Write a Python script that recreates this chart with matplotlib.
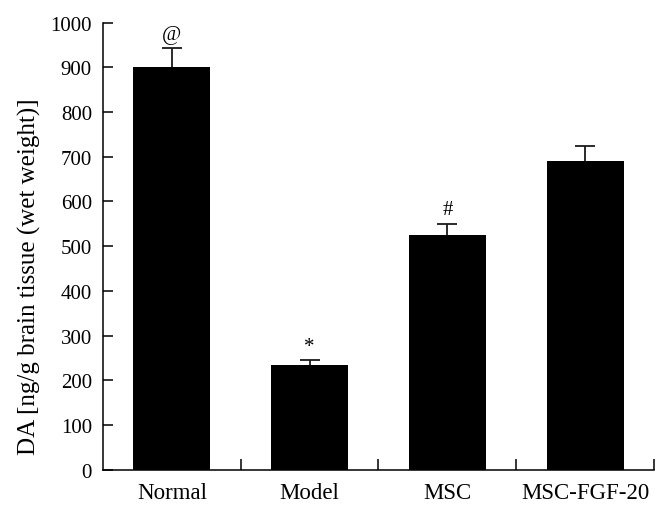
import numpy as np
import matplotlib
matplotlib.use("Agg")
import matplotlib.pyplot as plt

# ===================== 全局样式 =====================
plt.rcParams["font.family"] = ["Liberation Serif", "DejaVu Serif"]
plt.rcParams["axes.linewidth"] = 1.1

# ===================== 数据 =====================
groups = ["Normal", "Model", "MSC", "MSC-FGF-20"]
da_mean = [900, 233, 524, 691]
da_err = [43, 12, 26, 33]
marks = ["@", "*", "#", ""]

TICK_SIZE = 15
LABEL_SIZE = 16.5

fig = plt.figure(figsize=(6.68, 5.10), dpi=100)
ax = fig.add_axes([0.1542, 0.0771, 0.979 - 0.1542, 0.9539 - 0.0771])

x = np.arange(len(groups))

ax.bar(
    x,
    da_mean,
    width=0.56,
    color="black",
    edgecolor="black",
    linewidth=0,
    zorder=3,
)

# 只画向上的误差线
_, caps, _ = ax.errorbar(
    x,
    da_mean,
    yerr=[np.zeros(len(x)), da_err],
    fmt="none",
    ecolor="#1a1a1a",
    elinewidth=1.3,
    capsize=7,
    capthick=1.3,
    zorder=2,
)
caps[0].set_visible(False)

# 显著性标记
for xi, m, e, mk in zip(x, da_mean, da_err, marks):
    if mk:
        ax.text(
            xi,
            m + e + 10,
            mk,
            ha="center",
            va="bottom",
            fontsize=15,
        )

# ===================== 坐标轴 =====================
ax.set_xlim(-0.5, 3.5)
ax.set_ylim(0, 1000)
ax.set_yticks(np.arange(0, 1001, 100))

ax.set_xticks(x)
ax.set_xticklabels(groups, fontsize=LABEL_SIZE)
ax.set_xticks(x + 0.5, minor=True)
ax.tick_params(axis="x", which="major", length=0, pad=9)
ax.tick_params(axis="x", which="minor", direction="in", length=8, width=1.1)
ax.tick_params(axis="y", direction="in", length=7, width=1.1, labelsize=TICK_SIZE, pad=8)

ax.spines["top"].set_visible(False)
ax.spines["right"].set_visible(False)

ax.set_ylabel("DA [ng/g brain tissue (wet weight)]", fontsize=18)
ax.yaxis.set_label_coords(-0.112, 0.433)

fig.savefig("out.png", dpi=100)
